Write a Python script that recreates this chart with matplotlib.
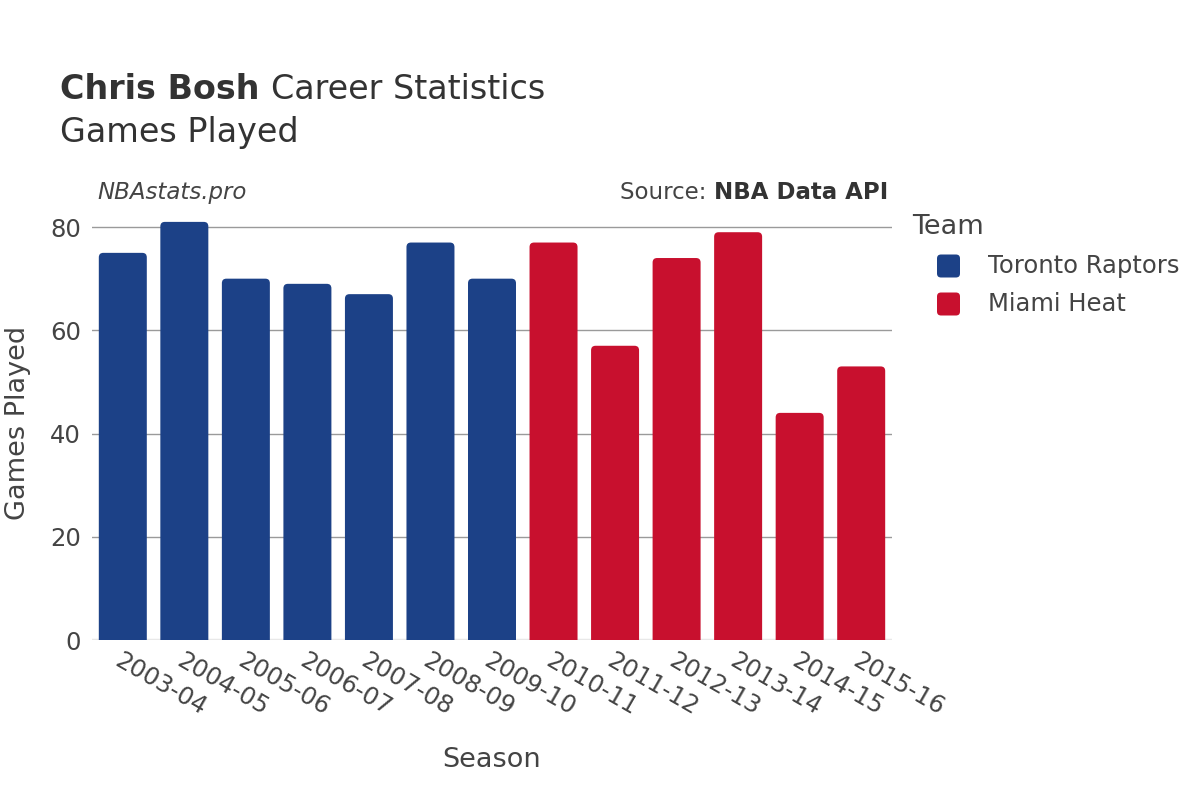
import matplotlib.pyplot as plt
from matplotlib.patches import FancyBboxPatch

# data
seasons = ['2003-04', '2004-05', '2005-06', '2006-07', '2007-08', '2008-09', '2009-10',
           '2010-11', '2011-12', '2012-13', '2013-14', '2014-15', '2015-16']
games = [75, 81, 70, 69, 67, 77, 70, 77, 57, 74, 79, 44, 53]
teams = ['Toronto Raptors'] * 7 + ['Miami Heat'] * 6
team_names = ['Toronto Raptors', 'Miami Heat']
team_colors = {'Toronto Raptors': '#1c4187', 'Miami Heat': '#c8102e'}

txt = '#444444'
W, H = 1200, 800

fig = plt.figure(figsize=(12, 8), dpi=100)
ax = fig.add_axes([0.0767, 0.2, 0.6666, 0.542])
ax.set_xlim(-0.5, len(seasons) - 0.5)
ax.set_ylim(0, 84)

# plain bars first, then swap each for a rounded box of the same size
bars = ax.bar(range(len(seasons)), games, width=0.78,
              color=[team_colors[t] for t in teams])
xpx = 800 / len(seasons)
ypx = 413 / 80
r = 4.5 / xpx
for b in bars:
    x0, w, h = b.get_x(), b.get_width(), b.get_height()
    fc = b.get_facecolor()
    b.remove()
    p = FancyBboxPatch((x0, -2), w, h + 2,
                       boxstyle='round,pad=0,rounding_size=%f' % r,
                       mutation_aspect=xpx / ypx, fc=fc, ec='none', zorder=2)
    ax.add_patch(p)

ax.set_yticks([0, 20, 40, 60, 80])
ax.yaxis.grid(True, color='#9a9a9a', linewidth=1)
ax.set_axisbelow(True)
for s in ax.spines.values():
    s.set_visible(False)
ax.axhline(0, color='#e8e8e8', linewidth=2.5, zorder=1)
ax.tick_params(axis='both', length=0, labelsize=17.5, labelcolor=txt)
ax.tick_params(axis='y', pad=8)
ax.set_xticks(range(len(seasons)))
ax.set_xticklabels(seasons, rotation=-30, ha='left', va='top', rotation_mode='anchor')
ax.tick_params(axis='x', pad=6)
ax.set_xlabel('Season', fontsize=19.5, color=txt, va='center')
ax.xaxis.set_label_coords(0.5, -0.277)
ax.set_ylabel('Games Played', fontsize=19.5, color=txt, va='center')
ax.yaxis.set_label_coords(-0.092, 0.5)

fig.canvas.draw()
rend = fig.canvas.get_renderer()


def after(t, s, **kw):
    # put text s right after text t
    bb = t.get_window_extent(rend)
    return fig.text(bb.x1 / W, t.get_position()[1], s, **kw)


# titles
t1 = fig.text(0.05, 0.876, 'Chris Bosh ', fontsize=24, fontweight='bold', color='#333333',
              va='baseline')
after(t1, 'Career Statistics', fontsize=24, color='#333333', va='baseline')
fig.text(0.05, 0.822, 'Games Played', fontsize=24, color='#333333', va='baseline')
fig.text(0.081, 0.751, 'NBAstats.pro', fontsize=16.5, style='italic', color=txt, va='baseline')
s2 = fig.text(0.74, 0.751, 'NBA Data API', fontsize=16.5, fontweight='bold', color='#333333',
              va='baseline', ha='right')
bb = s2.get_window_extent(rend)
fig.text(bb.x0 / W, 0.751, 'Source: ', fontsize=16.5, color=txt, va='baseline', ha='right')

# legend drawn by hand so the swatches can be rounded
fig.text(912 / W, 1 - 227 / H, 'Team', fontsize=19.5, color=txt, va='center')
for i, t in enumerate(team_names):
    yc = 1 - (266 + 38 * i) / H
    sw = FancyBboxPatch((937 / W, yc - 11.5 / H), 23 / W, 23 / H,
                        boxstyle='round,pad=0,rounding_size=%f' % (4 / W),
                        mutation_aspect=W / H, transform=fig.transFigure,
                        fc=team_colors[t], ec='none')
    fig.patches.append(sw)
    fig.text(988 / W, yc, t, fontsize=17.5, color=txt, va='center')

fig.savefig('out.png', dpi=100)
